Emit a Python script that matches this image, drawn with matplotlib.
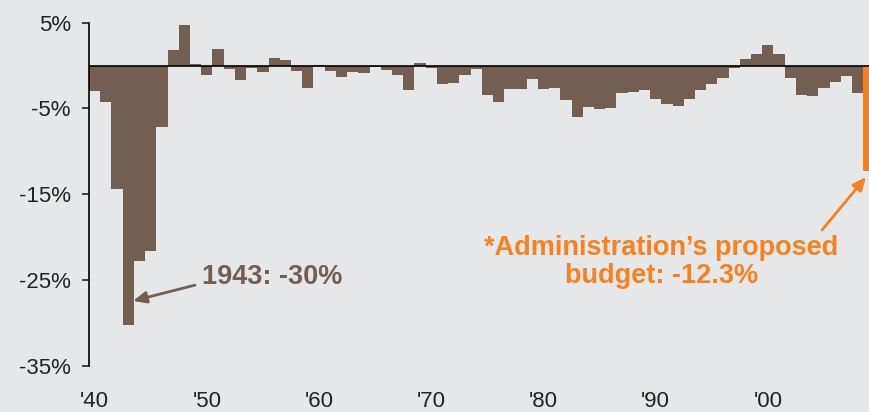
import numpy as np
import matplotlib
matplotlib.use('Agg')
import matplotlib.pyplot as plt

# ------------------------- data: surplus/deficit as % of GDP -------------------------
years = np.arange(1940, 2010)
balance = [-3.0, -4.3, -14.4, -30.3, -22.8, -21.6, -7.2, 1.8, 4.7, 0.2,
           -1.1, 1.9, -0.4, -1.7, -0.3, -0.8, 0.9, 0.7, -0.6, -2.6,
           0.1, -0.6, -1.3, -0.8, -0.9, -0.2, -0.5, -1.1, -2.9, 0.3,
           -0.3, -2.1, -2.0, -1.1, -0.4, -3.4, -4.2, -2.7, -2.7, -1.6,
           -2.7, -2.6, -4.0, -6.0, -4.8, -5.1, -5.0, -3.2, -3.1, -2.8,
           -3.9, -4.5, -4.7, -3.9, -2.9, -2.2, -1.4, -0.3, 0.8, 1.4,
           2.4, 1.3, -1.5, -3.4, -3.5, -2.6, -1.9, -1.2, -3.2, -12.3]
tick_years = [1940, 1950, 1960, 1970, 1980, 1990, 2000]
tick_labels = ["'40", "'50", "'60", "'70", "'80", "'90", "'00"]
y_ticks = [5, -5, -15, -25, -35]
y_labels = ['5%', '-5%', '-15%', '-25%', '-35%']

BG = '#E6E7E9'
BROWN = '#735E52'
ORANGE = '#F5821F'

plt.rcParams['font.family'] = ['Liberation Sans', 'DejaVu Sans']

fig = plt.figure(figsize=(8.7, 4.12), dpi=100, facecolor=BG)
ax = fig.add_axes([89/870, 1-365.7/412, 1-89/870, (365.7-22.7)/412])
ax.set_facecolor(BG)

colors = [BROWN]*(len(years)-1) + [ORANGE]
ax.bar(years, balance, width=1.0, color=colors, linewidth=0, zorder=2)
ax.axhline(0, color='black', lw=1.2, zorder=3)

ax.set_xlim(1939.5, 2009.1)
ax.set_ylim(-35, 5)
ax.set_yticks(y_ticks)
ax.set_yticklabels(y_labels)
ax.set_xticks(tick_years)
ax.set_xticklabels(tick_labels)

for s in ['top', 'right', 'bottom']:
    ax.spines[s].set_visible(False)
ax.spines['left'].set_linewidth(1.2)
ax.tick_params(axis='y', length=5, width=1.2, pad=8, labelsize=16, colors='#222222')
ax.tick_params(axis='x', length=0, pad=18, labelsize=16, colors='#222222')

# annotations
ax.text(1949.6, -24.7, '1943: -30%', color=BROWN, fontsize=19.5, fontweight='bold',
        ha='left', va='center')
ax.annotate('', xy=(1943.42, -27.45), xytext=(1948.95, -25.6),
            arrowprops=dict(arrowstyle='-|>,head_length=0.8,head_width=0.35',
                            color=BROWN, lw=2, shrinkA=0, shrinkB=0))

ax.text(1990.5, -22.9, '*Administration\u2019s proposed\nbudget: -12.3%', color=ORANGE,
        fontsize=19.5, fontweight='bold', ha='center', va='center', linespacing=1.1)
ax.annotate('', xy=(2008.75, -12.99), xytext=(2004.83, -19.17),
            arrowprops=dict(arrowstyle='-|>,head_length=0.8,head_width=0.35',
                            color=ORANGE, lw=2, shrinkA=0, shrinkB=0))

fig.savefig('out.png', dpi=100, facecolor=BG)
